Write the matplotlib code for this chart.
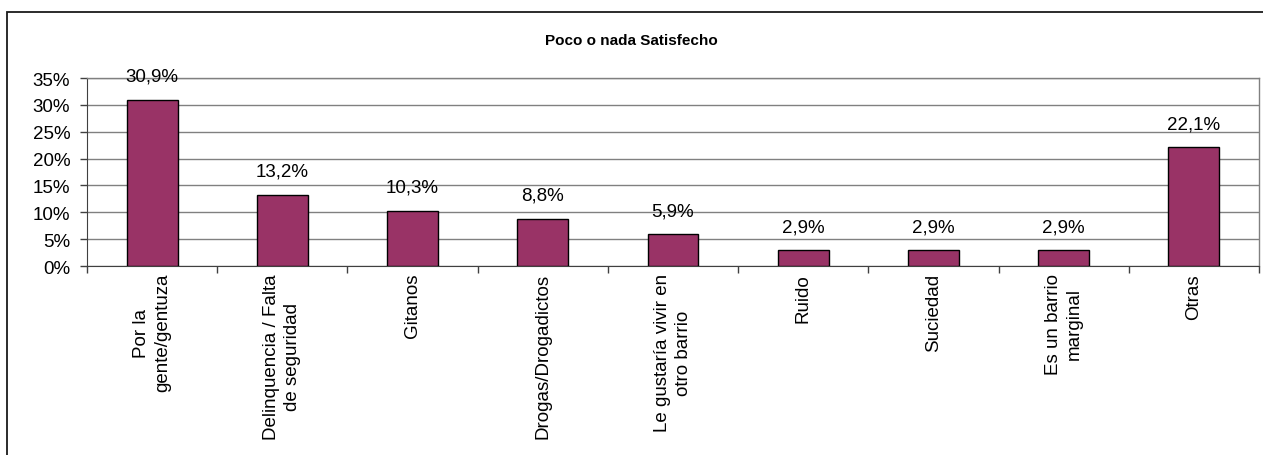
import matplotlib
matplotlib.use("Agg")
import matplotlib.pyplot as plt
from matplotlib.patches import Rectangle
from matplotlib.ticker import FixedLocator, NullFormatter

plt.rcParams['font.family'] = ['Liberation Sans', 'DejaVu Sans']

title = "Poco o nada Satisfecho"
categories = [
    "Por la\ngente/gentuza",
    "Delinquencia / Falta\nde seguridad",
    "Gitanos",
    "Drogas/Drogadictos",
    "Le gustaría vivir en\notro barrio",
    "Ruido",
    "Suciedad",
    "Es un barrio\nmarginal",
    "Otras",
]
values = [30.9, 13.2, 10.3, 8.8, 5.9, 2.9, 2.9, 2.9, 22.1]
yticks = [0, 5, 10, 15, 20, 25, 30, 35]

W, H = 1263, 456
fig = plt.figure(figsize=(W / 100, H / 100), dpi=100)
fig.patch.set_facecolor('white')

# outer chart frame
fig.add_artist(Rectangle((7 / W, -0.05), 1.2, 1 - 13 / H + 0.05,
                         transform=fig.transFigure, fill=False,
                         edgecolor='#1a1a1a', linewidth=1.3, zorder=0))

ax = fig.add_axes([87 / W, 1 - 267 / H, (1259 - 87) / W, (267 - 79) / H])
n = len(categories)
x = list(range(n))
ax.bar(x, values, width=0.39, color='#993366', edgecolor='black',
       linewidth=1.0, zorder=3)

ax.set_xlim(-0.5, n - 0.5)
ax.set_ylim(0, 35)

ax.set_yticks(yticks)
ax.set_yticklabels([f"{t}%" for t in yticks], fontsize=13.5)
ax.yaxis.grid(True, color='#808080', linewidth=1.0, zorder=0)
ax.set_axisbelow(True)

# category labels (rotated) at bar centers, tick marks at boundaries
ax.set_xticks(x)
ax.set_xticklabels(categories, rotation=90, fontsize=13.5, ha='center',
                   va='top', multialignment='center', linespacing=1.3)
ax.tick_params(axis='x', which='major', length=0, pad=5)
ax.xaxis.set_minor_locator(FixedLocator([i - 0.5 for i in range(n + 1)]))
ax.xaxis.set_minor_formatter(NullFormatter())
ax.tick_params(axis='x', which='minor', length=5, width=1.0, color='#404040')
ax.tick_params(axis='y', length=5, width=1.0, color='#404040', pad=7)

for s in ['top', 'right']:
    ax.spines[s].set_color('#808080')
    ax.spines[s].set_linewidth(1.0)
ax.spines['left'].set_color('#404040')
ax.spines['bottom'].set_color('#404040')

for xi, v in zip(x, values):
    ax.annotate(f"{v:.1f}%".replace('.', ','), (xi, v), xytext=(0, 11),
                textcoords='offset points', ha='center', va='bottom',
                fontsize=13.5)

fig.text(0.5, 1 - 41 / H, title, ha='center', va='center',
         fontsize=11, fontweight='bold')

fig.savefig('out.png', dpi=100)
